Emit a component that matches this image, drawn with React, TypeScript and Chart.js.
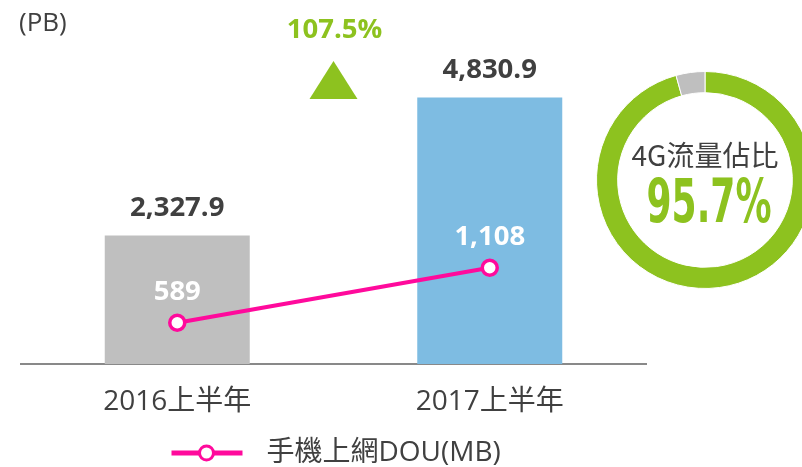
import React, { useEffect, useRef } from "react";
import { Chart, registerables } from "chart.js";

Chart.register(...registerables);

// ---- data ----
const categories = ["2016上半年", "2017上半年"];
const trafficPB = [2327.9, 4830.9];
const trafficLabels = ["2,327.9", "4,830.9"];
const douMB = [589, 1108];
const douLabels = ["589", "1,108"];
const growthLabel = "107.5%";
const unitLabel = "(PB)";
const legendLabel = "手機上網DOU(MB)";
const share4G = [95.7, 4.3];
const shareTitle = "4G流量佔比";
const shareLabel = "95.7%";

// ---- styles ----
const GRAY = "#BFBFBF";
const BLUE = "#7EBCE2";
const GREEN = "#8DC21F";
const MAGENTA = "#FF0A9C";
const DARK = "#404040";
const LATIN = '"Open Sans", "Noto Sans CJK TC", sans-serif';
const CJK = '"Noto Sans CJK TC", "Open Sans", sans-serif';

const annotPlugin = {
  id: "annot",
  afterDatasetsDraw(chart: any) {
    const ctx = chart.ctx as CanvasRenderingContext2D;
    const area = chart.chartArea;
    const barMeta = chart.getDatasetMeta(0);
    const lineMeta = chart.getDatasetMeta(1);
    ctx.save();
    ctx.textAlign = "center";
    ctx.textBaseline = "middle";
    ctx.font = `bold 27.5px ${LATIN}`;
    ctx.fillStyle = DARK;
    barMeta.data.forEach((el: any, i: number) => {
      ctx.fillText(trafficLabels[i], el.x, el.y - 27);
    });
    ctx.fillStyle = "#FFFFFF";
    lineMeta.data.forEach((el: any, i: number) => {
      ctx.fillText(douLabels[i], el.x, el.y - 31);
    });

    // unit
    ctx.textAlign = "left";
    ctx.font = `26px ${LATIN}`;
    ctx.fillStyle = DARK;
    ctx.fillText(unitLabel, 19, 24);

    // growth marker
    const midX = (barMeta.data[0].x + barMeta.data[1].x) / 2;
    ctx.textAlign = "center";
    ctx.font = `bold 27.5px ${LATIN}`;
    ctx.fillStyle = GREEN;
    ctx.fillText(growthLabel, midX + 1, 30);
    ctx.beginPath();
    ctx.moveTo(midX, 61);
    ctx.lineTo(midX + 24, 99);
    ctx.lineTo(midX - 24, 99);
    ctx.closePath();
    ctx.fill();

    // legend
    const ly = 453;
    const cx = (area.left + area.right) / 2;
    const lx0 = cx - 162;
    ctx.strokeStyle = MAGENTA;
    ctx.lineWidth = 5;
    ctx.beginPath();
    ctx.moveTo(lx0, ly);
    ctx.lineTo(lx0 + 71, ly);
    ctx.stroke();
    ctx.beginPath();
    ctx.arc(lx0 + 35, ly, 7, 0, Math.PI * 2);
    ctx.fillStyle = "#FFFFFF";
    ctx.fill();
    ctx.lineWidth = 3;
    ctx.stroke();
    ctx.textAlign = "left";
    ctx.fillStyle = DARK;
    ctx.font = `28px ${LATIN}`;
    ctx.fillText(legendLabel, lx0 + 95, ly);
    ctx.restore();
  },
};

const centerPlugin = {
  id: "center",
  afterDatasetsDraw(chart: any) {
    const ctx = chart.ctx as CanvasRenderingContext2D;
    const meta = chart.getDatasetMeta(0);
    const arc = meta.data[0];
    const cx = arc.x;
    const cy = arc.y;
    ctx.save();
    ctx.textAlign = "center";
    ctx.textBaseline = "middle";
    ctx.fillStyle = DARK;
    ctx.font = `28px ${CJK}`;
    ctx.fillText(shareTitle, cx, cy - 25);
    ctx.font = `bold 60px "DejaVu Sans", sans-serif`;
    const w = ctx.measureText(shareLabel).width;
    const sx = 125 / w;
    ctx.translate(cx + 4, cy + 26);
    ctx.scale(sx, 1);
    ctx.fillStyle = GREEN;
    ctx.fillText(shareLabel, 0, 0);
    ctx.restore();
  },
};

export default function App() {
  const mainRef = useRef<HTMLCanvasElement>(null);
  const donutRef = useRef<HTMLCanvasElement>(null);

  useEffect(() => {
    const main = new Chart(mainRef.current as HTMLCanvasElement, {
      type: "bar",
      data: {
        labels: categories,
        datasets: [
          {
            type: "bar",
            label: "PB",
            data: trafficPB,
            backgroundColor: [GRAY, BLUE],
            yAxisID: "y",
            categoryPercentage: 1,
            barPercentage: 0.464,
            order: 2,
          } as any,
          {
            type: "line",
            label: legendLabel,
            data: douMB,
            yAxisID: "y2",
            borderColor: MAGENTA,
            borderWidth: 4,
            pointRadius: 7.5,
            pointBackgroundColor: "#FFFFFF",
            pointBorderColor: MAGENTA,
            pointBorderWidth: 3.5,
            order: 1,
          } as any,
        ],
      },
      options: {
        responsive: false,
        animation: false,
        events: [],
        layout: { padding: { left: 21, right: 156, top: 33, bottom: 0 } },
        plugins: { legend: { display: false }, tooltip: { enabled: false } },
        scales: {
          x: {
            grid: { display: false, drawTicks: false },
            border: { color: "#898989", width: 2 },
            ticks: { color: DARK, font: { size: 28, family: LATIN }, padding: 21 },
            afterFit: (s: any) => {
              s.height = 103;
            },
          },
          y: { display: false, min: 0, max: 6000 },
          y2: { display: false, min: 200, max: 3324 },
        },
      } as any,
      plugins: [annotPlugin],
    });

    const donut = new Chart(donutRef.current as HTMLCanvasElement, {
      type: "doughnut",
      data: {
        labels: ["4G", "other"],
        datasets: [
          {
            data: share4G,
            backgroundColor: [GREEN, GRAY],
            borderColor: "#FFFFFF",
            borderWidth: 1,
          },
        ],
      },
      options: {
        responsive: false,
        animation: false,
        events: [],
        cutout: "80.5%",
        layout: { padding: 0 },
        plugins: { legend: { display: false }, tooltip: { enabled: false } },
      } as any,
      plugins: [centerPlugin],
    });

    return () => {
      main.destroy();
      donut.destroy();
    };
  }, []);

  return (
    <div
      style={{
        position: "fixed",
        left: 0,
        top: 0,
        width: 802,
        height: 467,
        overflow: "hidden",
        background: "#FFFFFF",
      }}
    >
      <canvas ref={mainRef} width={802} height={467} style={{ position: "absolute", left: 0, top: 0 }} />
      <canvas ref={donutRef} width={218} height={218} style={{ position: "absolute", left: 596, top: 71 }} />
    </div>
  );
}
